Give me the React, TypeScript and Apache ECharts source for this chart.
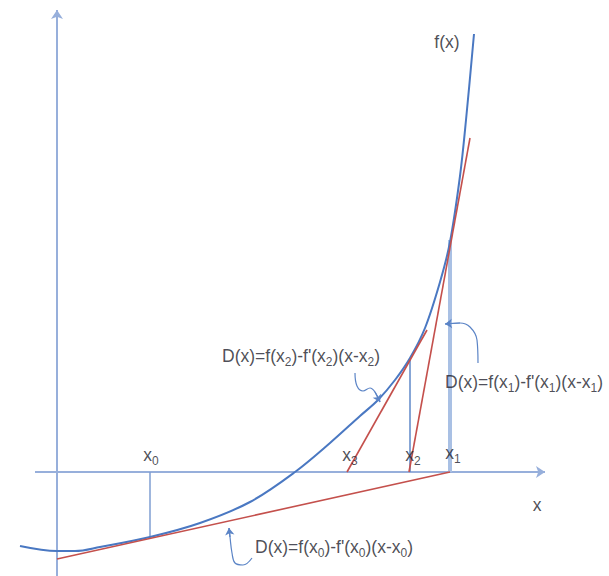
import React, { useEffect, useRef } from "react";
import * as echarts from "echarts";

// Data coordinates: origin at the axes intersection, 1 unit = 1 px.
const curvePoints: number[][] = [
  [-38, -74], [-1, -79], [17, -79], [42, -75], [92, -65], [142, -51], [192, -30],
  [237, 0], [272, 29], [302, 56], [320, 72], [337, 92], [352, 114], [367, 144],
  [382, 190], [392, 230], [402, 296], [408, 352], [416, 438],
];

// Newton iterates on the x axis
const x0 = 92;
const x1 = 392;
const x2 = 352;
const x3 = 289;

const fAtX0 = -65;
const fAtX1 = 232;
const fAtX2 = 114;

// tangent (red) lines: start / end
const tangent0: number[][] = [[-1, -87], [x1, 0]];
const tangent1: number[][] = [[x2 - 1, 0], [412, 334]];
const tangent2: number[][] = [[x3, 0], [369, 142]];

// axes
const xAxisLine: number[][] = [[-23, 0], [487, 0]];
const yAxisLine: number[][] = [[-1, -104], [-1, 462]];

// callout curves
const callout2: number[][] = [[297, 99], [299, 86], [305, 81], [312, 84], [317, 80], [322, 70]];
const callout1: number[][] = [[420, 109], [419, 132], [412, 145], [402, 149], [387, 148]];
const callout0: number[][] = [[194, -86], [185, -93], [177, -91], [174, -81], [172, -65], [171, -56]];

// labels
const labelTexts: string[] = [
  "f(x)", "x_0", "x_3", "x_2", "x_1", "x",
  "D(x)=f(x_2)-f'(x_2)(x-x_2)",
  "D(x)=f(x_1)-f'(x_1)(x-x_1)",
  "D(x)=f(x_0)-f'(x_0)(x-x_0)",
];
const labelPos: number[][] = [
  [389, 430], [93, 17], [292, 17], [355, 17], [395, 19], [479, -33],
  [164, 116], [387, 90], [197, -75],
];
const labelAlign: string[] = ["center", "center", "center", "center", "center", "center", "left", "left", "left"];

function toRich(t: string): string {
  let out = "";
  let buf = "";
  for (let i = 0; i < t.length; i++) {
    if (t[i] === "_" && i + 1 < t.length) {
      if (buf) out += "{m|" + buf + "}";
      buf = "";
      out += "{s|" + t[i + 1] + "}";
      i++;
    } else {
      buf += t[i];
    }
  }
  if (buf) out += "{m|" + buf + "}";
  return out;
}

const BLUE = "#4a78c2";
const AXIS = "#97afdb";
const RED = "#c4504c";
const TEXT = "#1e1e2c";

export default function App() {
  const ref = useRef<HTMLDivElement>(null);
  useEffect(() => {
    document.body.style.margin = "0";
    if (!ref.current) return;
    const chart = echarts.init(ref.current, undefined, { renderer: "svg" });

    const arrowSeg = (pts: number[][]) => [pts[pts.length - 2], pts[pts.length - 1]];

    const option: any = {
      animation: false,
      backgroundColor: "#ffffff",
      grid: { left: 0, right: 0, top: 0, bottom: 0 },
      xAxis: { type: "value", min: -58, max: 551, show: false },
      yAxis: { type: "value", min: -104, max: 472, show: false },
      series: [
        {
          type: "lines",
          coordinateSystem: "cartesian2d",
          symbol: ["none", "arrow"],
          symbolSize: 9,
          lineStyle: { color: AXIS, width: 2, opacity: 1 },
          data: [{ coords: xAxisLine }, { coords: yAxisLine }],
          z: 1,
        },
        {
          type: "lines",
          coordinateSystem: "cartesian2d",
          symbol: "none",
          lineStyle: { opacity: 1 },
          data: [
            { coords: [[x0, 0], [x0, fAtX0]], lineStyle: { color: "#7f9ed2", width: 1.5 } },
            { coords: [[x2, 0], [x2, fAtX2]], lineStyle: { color: "#5f89c9", width: 1.5 } },
            { coords: [[x1, 0], [x1, fAtX1]], lineStyle: { color: "#a9c0e4", width: 4 } },
          ],
          z: 2,
        },
        {
          type: "line",
          data: curvePoints,
          smooth: 0.35,
          showSymbol: false,
          lineStyle: { color: BLUE, width: 2 },
          z: 3,
        },
        {
          type: "lines",
          coordinateSystem: "cartesian2d",
          symbol: "none",
          lineStyle: { color: RED, width: 1.6, opacity: 1 },
          data: [{ coords: tangent0 }, { coords: tangent1 }, { coords: tangent2 }],
          z: 4,
        },
        ...[callout2, callout1, callout0].map((c) => ({
          type: "line",
          data: c,
          smooth: 0.4,
          showSymbol: false,
          lineStyle: { color: "#5b84c6", width: 1.2 },
          z: 5,
        })),
        {
          type: "lines",
          coordinateSystem: "cartesian2d",
          symbol: ["none", "arrow"],
          symbolSize: 7,
          lineStyle: { color: "#5b84c6", width: 1.2, opacity: 1 },
          data: [callout2, callout1, callout0].map((c) => ({ coords: arrowSeg(c) })),
          z: 5,
        },
        {
          type: "scatter",
          symbolSize: 0,
          z: 10,
          data: labelTexts.map((t, i) => ({
            value: labelPos[i],
            label: {
              show: true,
              position: labelAlign[i] === "left" ? "right" : "inside",
              distance: 0,
              formatter: toRich(t),
              rich: {
                m: { fontFamily: "Liberation Sans", fontSize: 17.5, color: TEXT, lineHeight: 24, verticalAlign: "middle" },
                s: { fontFamily: "Liberation Sans", fontSize: 12, color: TEXT, lineHeight: 10, verticalAlign: "bottom" },
              },
            },
          })),
        },
      ],
    };
    chart.setOption(option);
    return () => chart.dispose();
  }, []);
  return <div ref={ref} style={{ width: 609, height: 576 }} />;
}
